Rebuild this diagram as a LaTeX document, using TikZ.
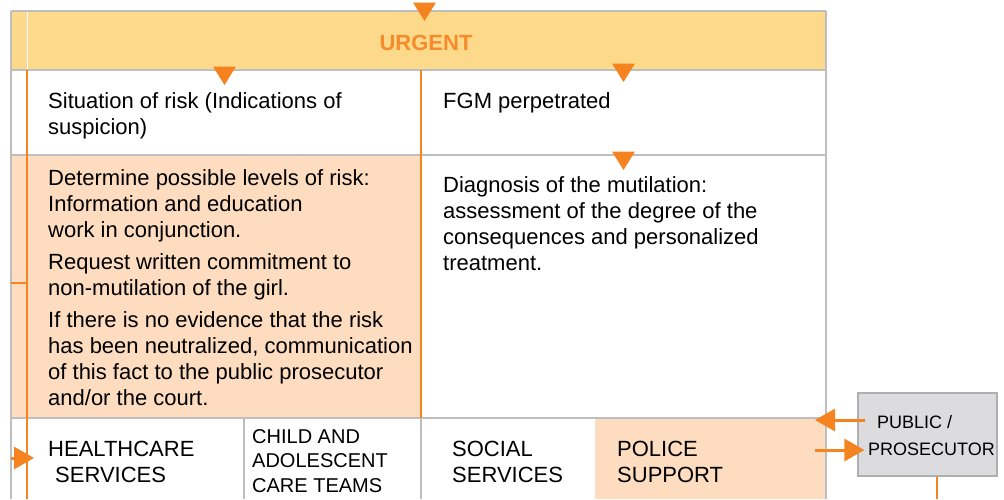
\documentclass[tikz,border=0pt]{standalone}
\usepackage{fontspec}
\setmainfont{Liberation Sans}
\usepackage{tikz}
\usetikzlibrary{arrows.meta}

\definecolor{urgentfill}{HTML}{FDDA8B}
\definecolor{urgenttext}{HTML}{F58C2C}
\definecolor{riskfill}{HTML}{FDDCBF}
\definecolor{flowline}{HTML}{F5831F}
\definecolor{cellrule}{HTML}{BEBEBE}
\definecolor{prosfill}{HTML}{DCDCDF}
\definecolor{prosrule}{HTML}{AFAFB2}

\newcommand{\cellfont}{\fontsize{22}{26}\selectfont}
\newcommand{\childfont}{\fontsize{20}{24.5}\selectfont}
\newcommand{\prosfont}{\fontsize{18}{27}\selectfont}

% multi-line cells sit on the baseline of their last line
\tikzset{
  cell/.style={font=\cellfont, anchor=base west, align=left, inner sep=0pt},
  rule/.style={cellrule, line width=1.6pt},
  orangerule/.style={flowline, line width=1.4pt},
  flow/.style={flowline, line width=3pt, -{Triangle[length=20pt,width=22pt]}},
  ppbox/.style={draw=prosrule, fill=prosfill, line width=1.2pt,
    minimum width=139pt, minimum height=83pt, inner sep=0pt}
}

\begin{document}
\begin{tikzpicture}[x=1pt,y=-1pt]
\useasboundingbox (0,0) rectangle (1004,499);
% small downward flow markers, tip at (#1,#2)
\newcommand{\flowtri}[2]{%
  \fill[flowline] (#1-11.5,#2-18.5) -- (#1+11.5,#2-18.5) -- (#1,#2) -- cycle;
}

% cell backgrounds
\fill[urgentfill] (11,11) rectangle (826,70);
\fill[riskfill] (11,155) rectangle (421,418);
\fill[riskfill] (595,418) rectangle (826,499);
\draw[white, line width=1pt] (27,11) -- (27,70);

% grid
\draw[rule] (11,11) -- (826,11);
\draw[rule] (11,70) -- (826,70);
\draw[rule] (11,155) -- (826,155);
\draw[rule] (11,418) -- (826,418);
\draw[rule] (11,11) -- (11,499);
\draw[rule] (826,11) -- (826,499);
\draw[rule] (244,418) -- (244,499);
\draw[rule] (421,418) -- (421,499);
\draw[orangerule] (27,70) -- (27,499);
\draw[orangerule] (421,70) -- (421,418);
\draw[flowline, line width=2pt] (11,283) -- (27,283);

\flowtri{424.5}{21}
\flowtri{224.5}{85}
\flowtri{623.5}{82}
\flowtri{623.5}{170}

% texts
\node[cell, font=\cellfont\bfseries, text=urgenttext, anchor=base] (urgent) at (426,50) {URGENT};
\node[cell] (risk) at (48,134) {Situation of risk (Indications of\\suspicion)};
\node[cell] (fgm) at (443,108) {FGM perpetrated};
\node[cell] (levels) at (48,405) {Determine possible levels of risk:\\
  Information and education\\work in conjunction.\\[6pt]
  Request written commitment to\\non-mutilation of the girl.\\[6pt]
  If there is no evidence that the risk\\has been neutralized, communication\\
  of this fact to the public prosecutor\\and/or the court.};
\node[cell] (diag) at (443,270) {Diagnosis of the mutilation:\\
  assessment of the degree of the\\consequences and personalized\\treatment.};
\node[cell] (health) at (48,482) {HEALTHCARE\\\hspace*{7pt}SERVICES};
\node[cell, font=\childfont] (child) at (252,492) {CHILD AND\\ADOLESCENT\\CARE TEAMS};
\node[cell] (social) at (452,482) {SOCIAL\\SERVICES};
\node[cell] (police) at (617,482) {POLICE\\SUPPORT};

% public prosecutor
\node[ppbox] (pp) at (927.5,434.5) {};
\node[cell, font=\prosfont] (pptext) at (868,455) {\hspace*{9pt}PUBLIC /\\PROSECUTOR};

% connectors
\coordinate (hin) at (11,458);
\coordinate (back) at (815,420);
\coordinate (forth) at (815,450);
\coordinate (down) at (937,499);
\draw[flow] (hin) -- ([xshift=-14pt]health.west |- hin);
\draw[flow] (pp.west |- back) ++(8,0) -- (back);
\draw[flow] (forth) -- ([xshift=7pt]pp.west |- forth);
\draw[flowline, line width=2.5pt] (pp.south -| down) -- (down);
\end{tikzpicture}
\end{document}
